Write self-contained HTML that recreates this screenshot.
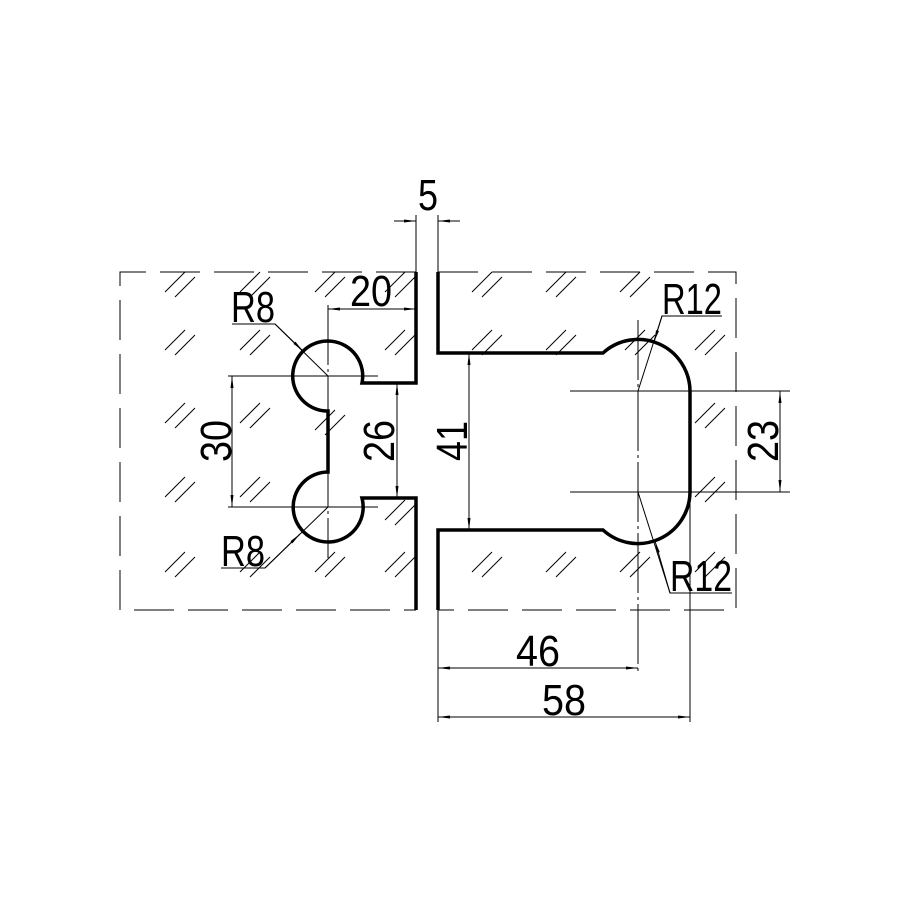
<!DOCTYPE html>
<html><head><meta charset="utf-8"><style>html,body{margin:0;padding:0;background:#fff}svg{display:block}</style></head>
<body>
<svg width="900" height="900" viewBox="0 0 900 900" xmlns="http://www.w3.org/2000/svg">
<defs>
<marker id="a" viewBox="0 0 12 6" refX="12" refY="3" markerWidth="12" markerHeight="6" orient="auto-start-reverse" markerUnits="userSpaceOnUse"><path d="M0,1.5 L12,3 L0,4.5z" fill="#000"/></marker>
<g id="h"><line x1="0" y1="20" x2="20" y2="0"/><line x1="10" y1="25" x2="30" y2="5"/></g>
</defs>
<rect width="900" height="900" fill="#fff"/>
<g stroke="#000" stroke-width="1" fill="none" stroke-dasharray="40,14">
<polyline points="416,272 120,272 120,610 416,610"/>
<polyline points="438,272 736,272 736,610 438,610"/>
</g>
<g stroke="#000" stroke-width="1">
<use href="#h" x="165" y="272"/><use href="#h" x="240" y="272"/><use href="#h" x="315" y="272"/><use href="#h" x="385" y="272"/>
<use href="#h" x="165" y="330"/><use href="#h" x="240" y="330"/><use href="#h" x="385" y="330"/>
<use href="#h" x="165" y="403"/><use href="#h" x="240" y="403"/><use href="#h" x="315" y="410"/>
<use href="#h" x="165" y="477"/><use href="#h" x="240" y="477"/><use href="#h" x="385" y="500"/>
<use href="#h" x="165" y="552"/><use href="#h" x="240" y="552"/><use href="#h" x="315" y="552"/><use href="#h" x="385" y="552"/>
<use href="#h" x="472" y="272"/><use href="#h" x="546" y="272"/><use href="#h" x="620" y="272"/>
<use href="#h" x="472" y="330"/><use href="#h" x="546" y="330"/><use href="#h" x="625" y="330"/><use href="#h" x="695" y="330"/>
<use href="#h" x="695" y="403"/><use href="#h" x="695" y="477"/>
<use href="#h" x="472" y="552"/><use href="#h" x="546" y="552"/><use href="#h" x="620" y="552"/><use href="#h" x="695" y="552"/>
</g>
<g stroke="#000" stroke-width="3.5" fill="none">
<path d="M416,272 L416,383 L362,383 A35,35 0 1 0 328,411 L328,472 A35,35 0 1 0 362,498 L416,498 L416,610"/>
<path d="M438,272 L438,353 L603,353 A52,52 0 0 1 690,391 L690,492 A52,52 0 0 1 603,530 L438,530 L438,610"/>
</g>
<g stroke="#000" stroke-width="1" fill="none">
<line x1="328" y1="305" x2="328" y2="558" stroke-dasharray="60,4,3,4"/>
<line x1="638" y1="320" x2="638" y2="672" stroke-dasharray="60,4,3,4"/>
<line x1="570" y1="391" x2="790" y2="391"/><line x1="570" y1="492" x2="790" y2="492"/>
<line x1="228" y1="376" x2="378" y2="376"/><line x1="228" y1="507" x2="378" y2="507"/>
<line x1="416" y1="215" x2="416" y2="272"/><line x1="438" y1="215" x2="438" y2="272"/>
<line x1="438" y1="610" x2="438" y2="722"/><line x1="690" y1="492" x2="690" y2="722"/>
<line x1="394" y1="221" x2="416" y2="221" marker-end="url(#a)"/>
<line x1="460" y1="221" x2="438" y2="221" marker-end="url(#a)"/>
<line x1="328" y1="309" x2="416" y2="309" marker-start="url(#a)" marker-end="url(#a)"/>
<line x1="232" y1="376" x2="232" y2="507" marker-start="url(#a)" marker-end="url(#a)"/>
<line x1="397" y1="383" x2="397" y2="498" marker-start="url(#a)" marker-end="url(#a)"/>
<line x1="469" y1="353" x2="469" y2="530" marker-start="url(#a)" marker-end="url(#a)"/>
<line x1="780" y1="391" x2="780" y2="492" marker-start="url(#a)" marker-end="url(#a)"/>
<line x1="438" y1="668" x2="638" y2="668" marker-start="url(#a)" marker-end="url(#a)"/>
<line x1="438" y1="717" x2="690" y2="717" marker-start="url(#a)" marker-end="url(#a)"/>
<polyline points="232,324 275,324 328,376"/>
<polyline points="221,568 265,568 328,507"/>
<polyline points="722,316 662,316 638,391"/>
<polyline points="732,593 670,593 638,492"/>
</g>
<g stroke="#000" stroke-width="1">
<line x1="275" y1="324" x2="303" y2="351" marker-end="url(#a)"/>
<line x1="265" y1="568" x2="300" y2="534" marker-end="url(#a)"/>
<line x1="662" y1="316" x2="654" y2="342" marker-end="url(#a)"/>
<line x1="670" y1="593" x2="655" y2="541" marker-end="url(#a)"/>
</g>
<g font-family="Liberation Sans, sans-serif" font-size="44" fill="#000">
<text x="428" y="210" text-anchor="middle" textLength="20" lengthAdjust="spacingAndGlyphs">5</text>
<text x="371" y="306" text-anchor="middle" textLength="42" lengthAdjust="spacingAndGlyphs">20</text>
<text x="253" y="322" text-anchor="middle" textLength="44" lengthAdjust="spacingAndGlyphs">R8</text>
<text x="243" y="566" text-anchor="middle" textLength="44" lengthAdjust="spacingAndGlyphs">R8</text>
<text x="692" y="314" text-anchor="middle" textLength="60" lengthAdjust="spacingAndGlyphs">R12</text>
<text x="701" y="591" text-anchor="middle" textLength="62" lengthAdjust="spacingAndGlyphs">R12</text>
<text x="538" y="666" text-anchor="middle" textLength="44" lengthAdjust="spacingAndGlyphs">46</text>
<text x="564" y="715" text-anchor="middle" textLength="44" lengthAdjust="spacingAndGlyphs">58</text>
<text transform="translate(231,441) rotate(-90)" text-anchor="middle" textLength="42" lengthAdjust="spacingAndGlyphs">30</text>
<text transform="translate(394,441) rotate(-90)" text-anchor="middle" textLength="42" lengthAdjust="spacingAndGlyphs">26</text>
<text transform="translate(467,441) rotate(-90)" text-anchor="middle" textLength="40" lengthAdjust="spacingAndGlyphs">41</text>
<text transform="translate(778,441) rotate(-90)" text-anchor="middle" textLength="42" lengthAdjust="spacingAndGlyphs">23</text>
</g>
</svg>
</body></html>
